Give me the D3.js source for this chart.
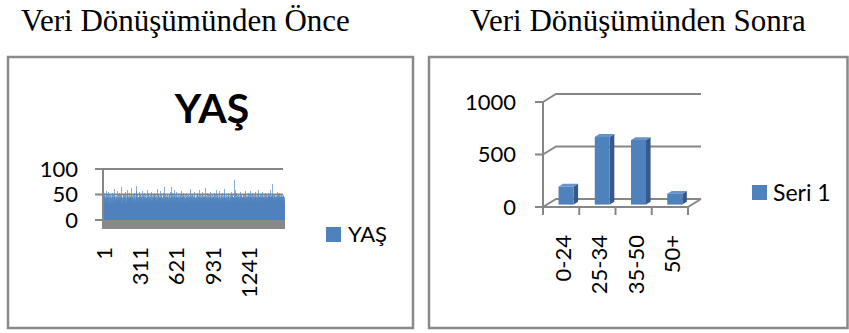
<!DOCTYPE html>
<html>
<head>
<meta charset="utf-8">
<script src="https://cdn.jsdelivr.net/npm/d3@7"></script>
<style>
  html, body { margin: 0; padding: 0; background: #fff; }
  svg { display: block; }
  .lbl { font-family: Lato, "Open Sans", sans-serif; fill: #000; }
  .head { font-family: "Liberation Serif", "Times New Roman", serif; fill: #000; }
</style>
</head>
<body>
<svg id="chart" width="849" height="333"></svg>
<script>
// Panel headings
const headings = ["Veri Dönüşümünden Önce", "Veri Dönüşümünden Sonra"];

// Left chart: age of every record (YAŞ), in record order
const ages = [
34,27,45,22,31,48,29,38,52,26,44,33,19,41,28,47,36,30,25,46,39,32,57,24,43,29,35,49,27,31,21,45,38,26,50,33,
28,46,31,23,37,44,29,55,33,26,47,40,30,22,45,27,34,49,32,28,43,36,25,51,30,41,46,20,33,29,48,35,27,44,31,38,
30,45,26,39,53,28,33,47,24,42,31,29,46,36,27,50,34,22,44,30,38,61,29,26,45,33,48,31,23,40,35,47,28,32,43,25,
32,48,27,35,44,21,30,46,38,29,56,33,25,45,31,42,28,49,34,26,47,37,30,23,44,32,52,27,39,46,29,24,43,35,31,48,
29,44,33,26,50,31,38,47,22,35,28,45,41,30,64,27,34,46,25,32,43,36,29,48,31,24,45,39,27,51,33,30,46,28,37,44,
35,27,49,31,23,45,38,29,42,33,55,26,47,30,36,44,28,21,48,34,31,46,39,25,58,30,43,27,35,49,32,24,45,37,29,41,
28,47,33,40,26,45,31,53,36,24,44,29,38,48,30,22,46,35,27,43,32,50,29,37,45,26,34,62,31,28,47,39,25,44,33,30,
46,31,27,49,35,23,44,30,38,52,28,33,45,26,41,29,47,36,24,31,48,34,27,43,39,30,56,25,66,32,28,45,37,21,44,33,
30,44,25,38,47,29,33,50,27,42,35,22,46,31,28,45,39,54,26,34,48,30,24,43,37,29,47,32,36,45,27,51,33,23,40,46,
32,28,48,35,26,44,31,39,57,29,24,46,33,41,30,47,27,36,45,22,34,49,29,38,43,31,25,52,35,28,46,30,40,44,27,33,
45,29,34,50,27,37,43,31,23,48,36,28,44,33,59,26,39,46,30,25,45,35,41,29,48,32,27,53,38,24,44,31,36,47,28,30,
27,46,32,38,44,21,35,49,29,31,45,26,40,55,33,28,47,36,30,43,24,39,48,31,27,45,34,29,50,37,26,44,32,41,46,28,
33,48,29,36,25,45,31,42,52,27,38,46,30,23,44,35,28,49,33,40,26,47,31,37,45,29,61,34,27,43,38,30,46,24,35,44,
29,41,47,32,26,50,34,28,45,37,22,44,31,39,48,27,33,56,30,46,25,36,43,29,47,31,38,27,45,34,24,49,30,42,35,28,
46,30,35,27,44,39,31,53,26,48,33,29,45,37,23,41,28,47,34,31,64,26,38,45,29,35,49,32,27,44,40,30,46,25,33,43,
31,47,28,36,51,24,45,33,39,29,46,27,42,35,30,48,25,37,44,32,28,50,34,41,26,45,31,38,47,29,33,55,27,44,36,30,
35,43,64,29,32,46,27,38,48,31,24,45,36,30,52,28,41,47,33,26,44,35,29,49,37,22,46,32,39,27,45,31,58,34,28,47,
30,36,44,27,49,33,25,46,38,29,43,31,55,26,35,47,30,40,28,45,34,23,48,37,29,44,32,51,27,39,46,30,25,43,36,33,
47,28,34,41,26,45,32,38,50,29,35,44,27,31,48,24,39,46,33,28,43,36,57,30,45,26,34,49,31,37,44,28,22,47,35,30,
33,45,29,38,52,27,44,31,36,48,25,40,30,46,34,28,43,37,21,49,32,29,45,39,27,53,35,31,46,26,42,33,47,30,38,44,
28,36,47,31,25,44,39,30,50,33,27,46,35,41,29,45,24,38,48,32,60,28,43,36,30,47,26,34,45,31,39,49,27,35,44,23,
45,32,29,48,37,26,43,34,51,28,39,46,31,24,44,36,30,47,27,33,45,40,29,55,32,26,48,35,42,30,46,28,37,44,31,25,
34,47,30,41,27,45,36,22,49,33,28,44,38,31,53,26,46,35,29,43,32,48,27,39,45,30,36,58,25,44,34,29,47,31,40,46,
29,35,45,27,50,32,38,44,30,26,47,34,41,28,46,33,24,49,36,31,43,29,54,37,27,45,32,39,48,30,25,44,35,42,28,47,
31,44,37,28,46,33,62,29,40,45,26,35,48,31,23,43,38,30,47,34,27,45,41,29,52,33,36,46,28,39,44,30,26,49,35,32,
46,28,34,43,30,38,49,27,45,33,24,41,36,47,29,31,55,26,44,37,30,48,33,28,42,46,35,25,45,31,39,50,27,34,44,29,
36,45,30,27,48,33,41,29,46,38,25,44,32,53,28,36,47,31,43,22,39,45,30,34,49,27,37,44,31,58,26,46,35,29,42,33,
47,30,38,26,45,34,29,50,36,31,44,27,41,48,33,24,46,39,28,35,43,31,56,29,45,37,27,47,32,40,44,26,34,49,30,36,
28,45,33,39,47,26,36,44,31,52,29,38,46,24,41,33,48,30,27,45,35,42,29,49,31,37,44,28,60,33,26,46,38,30,43,35,
32,48,27,44,35,30,46,39,25,43,33,51,28,37,45,31,29,47,34,40,26,44,36,30,48,27,53,33,41,45,29,35,47,31,24,44,
38,30,45,33,27,49,36,42,29,46,31,25,44,37,54,28,47,34,30,43,39,26,48,32,45,35,29,50,33,41,27,46,36,31,44,30,
45,32,39,28,78,35,47,30,43,26,37,49,31,44,34,29,58,41,27,46,33,38,45,30,52,28,44,36,31,47,25,40,48,34,29,45,
33,44,29,37,50,31,46,27,42,35,48,30,24,45,38,32,47,28,55,36,43,29,46,33,39,27,49,31,44,35,26,47,40,30,45,34,
29,46,36,31,44,27,51,38,33,45,28,41,47,30,35,43,26,49,32,39,45,29,36,56,31,44,27,48,34,30,42,46,33,25,47,37,
31,45,28,40,48,34,29,46,37,26,44,33,53,30,47,36,27,42,45,31,38,49,29,35,44,26,46,32,40,57,28,45,34,30,48,36,
44,29,37,46,31,25,49,35,42,28,45,33,30,47,39,27,52,34,44,31,36,48,28,41,45,30,26,47,35,43,29,50,33,38,46,27,
35,47,30,43,28,46,38,32,54,29,44,36,27,48,33,41,45,30,25,49,37,31,46,28,43,35,59,30,45,34,27,47,39,32,44,29,
46,33,40,27,45,31,48,36,29,44,34,51,28,39,47,30,43,26,45,35,32,49,38,29,46,31,42,27,55,36,44,30,47,33,28,45,
30,44,37,48,29,35,46,32,41,27,49,34,45,30,38,53,28,44,36,31,47,26,43,39,45,33,29,50,35,46,28,41,44,32,37,47,
33,46,28,45,39,31,48,36,44,27,52,35,42,30,47,34,29,45,38,49,31,43,26,46,37,33,44,58,30,47,35,41,28,45,32,48,
36,44,30,47,70,34,45,29,40,48,33,27,46,38,43,31,50,35,44,28,47,37,32,45,30,49,36,41,27,46,34,44,39,29,47,31,
45,35,48,28,42,37,46,31,55,33,44,29,47,36,40,45,27,49,34,43,30,46,38,32,48,26,45,35,41,47,30,53,37,44,29,46,
32,48,39,45,30,44,36,47,28,50,35,43,31,46,38,29,45,34,48,27,42,37,46,33,44,30,49,36,41,45,28,47,35,43,31,46
];
const leftTitle = "YAŞ";
const leftYTicks = [0, 50, 100];
const leftXTickLabels = [1, 311, 621, 931, 1241];

// Right chart: records per age group
const groups = ["0-24", "25-34", "35-50", "50+"];
const groupCounts = [172, 645, 615, 104];
const rightYTicks = [0, 500, 1000];
const rightSeries = "Seri 1";

const BLUE = "#4F81BD", BLUE_SIDE = "#34598A", BLUE_TOP = "#6593CB";
const GRID = "#868686";

const svg = d3.select("#chart");

// headings
svg.selectAll("text.head").data(headings).join("text")
  .attr("class", "head")
  .attr("x", (d, i) => i === 0 ? 21 : 470)
  .attr("y", 31)
  .attr("font-size", 31)
  .text(d => d);

// panel frames
svg.append("rect").attr("x", 8).attr("y", 57).attr("width", 405).attr("height", 271)
  .attr("fill", "none").attr("stroke", "#8a8a8a").attr("stroke-width", 2.5);
svg.append("rect").attr("x", 429).attr("y", 57).attr("width", 418.5).attr("height", 271)
  .attr("fill", "none").attr("stroke", "#8a8a8a").attr("stroke-width", 2.5);

/* ---------------- left chart ---------------- */
const L = svg.append("g");
const lx = d3.scaleBand().domain(d3.range(ages.length)).range([103, 284]);
const ly = d3.scaleLinear().domain([0, 100]).range([220, 169]);

L.append("text").attr("class", "lbl")
  .attr("x", 212).attr("y", 123).attr("text-anchor", "middle")
  .attr("font-size", 41).attr("font-weight", 700)
  .text(leftTitle);

// gridlines with tick stubs
L.selectAll("line.grid").data(leftYTicks).join("line")
  .attr("x1", 95).attr("x2", 283)
  .attr("y1", d => ly(d)).attr("y2", d => ly(d))
  .attr("stroke", GRID).attr("stroke-width", 2);

// floor
L.append("rect").attr("x", 102).attr("y", ly(0)).attr("width", 183).attr("height", 9)
  .attr("fill", "#888888");

// age columns
L.append("g").attr("shape-rendering", "crispEdges")
  .selectAll("rect").data(ages).join("rect")
  .attr("x", (d, i) => lx(i))
  .attr("width", 1)
  .attr("y", d => ly(d))
  .attr("height", d => ly(0) - ly(d))
  .attr("fill", BLUE).attr("fill-opacity", 0.65);

// vertical axis line
L.append("line").attr("x1", 103).attr("x2", 103)
  .attr("y1", ly(100)).attr("y2", ly(0))
  .attr("stroke", GRID).attr("stroke-width", 2);

// y labels
L.selectAll("text.yl").data(leftYTicks).join("text")
  .attr("class", "lbl").attr("font-size", 22)
  .attr("x", 78).attr("y", d => ly(d)).attr("dy", "0.36em")
  .attr("text-anchor", "end")
  .text(d => d);

// x labels (rotated)
L.selectAll("text.xl").data(leftXTickLabels).join("text")
  .attr("class", "lbl").attr("font-size", 22)
  .attr("text-anchor", "end")
  .attr("transform", d => `translate(${lx(d - 1) + 1},247) rotate(-90)`)
  .attr("dy", "0.36em")
  .text(d => d);

// legend
L.append("rect").attr("x", 326).attr("y", 227).attr("width", 15).attr("height", 15).attr("fill", BLUE);
L.append("text").attr("class", "lbl").attr("font-size", 22)
  .attr("x", 348).attr("y", 242).text(leftTitle);

/* ---------------- right chart (3-D columns) ---------------- */
const R = svg.append("g");
const DX = 13, DY = -8;            // depth vector of the floor
const rx = d3.scaleBand().domain(groups).range([543, 688]);
const ry = d3.scaleLinear().domain([0, 1000]).range([207, 102]);
const x0 = rx.range()[0], x1 = rx.range()[1];

// back wall gridlines with side-wall diagonals
R.selectAll("path.grid").data(rightYTicks).join("path")
  .attr("d", d => `M${x0},${ry(d)} L${x0 + DX},${ry(d) + DY} L${x1 + DX},${ry(d) + DY}`)
  .attr("fill", "none").attr("stroke", GRID).attr("stroke-width", 2);

// floor front and right edges
R.append("path")
  .attr("d", `M${x0},${ry(0)} L${x1},${ry(0)} L${x1 + DX},${ry(0) + DY}`)
  .attr("fill", "none").attr("stroke", GRID).attr("stroke-width", 2);

// value axis line and ticks
R.append("line").attr("x1", x0).attr("x2", x0).attr("y1", ry(1000)).attr("y2", ry(0) + 8)
  .attr("stroke", GRID).attr("stroke-width", 2);
R.selectAll("line.yt").data(rightYTicks).join("line")
  .attr("x1", x0 - 8).attr("x2", x0).attr("y1", d => ry(d)).attr("y2", d => ry(d))
  .attr("stroke", GRID).attr("stroke-width", 2);

// category ticks
const catEdges = groups.map(g => rx(g)).concat([x1]);
R.selectAll("line.xt").data(catEdges).join("line")
  .attr("x1", d => d).attr("x2", d => d).attr("y1", ry(0)).attr("y2", ry(0) + 8)
  .attr("stroke", GRID).attr("stroke-width", 2);

// columns
const T0 = 0.3, T1 = 0.65, BW = 15;
const bars = R.selectAll("g.bar").data(groups.map((g, i) => ({ g, v: groupCounts[i] }))).join("g");
bars.each(function (d) {
  const g = d3.select(this);
  const cx = rx(d.g) + rx.bandwidth() / 2 + DX * T0 + 1;
  const xl = cx - BW / 2, xr = cx + BW / 2;
  const yb = ry(0) + DY * T0, yt = ry(d.v) + DY * T0;
  const ddx = DX * (T1 - T0), ddy = DY * (T1 - T0);
  // right side face
  g.append("path")
    .attr("d", `M${xr},${yb} L${xr + ddx},${yb + ddy} L${xr + ddx},${yt + ddy} L${xr},${yt} Z`)
    .attr("fill", BLUE_SIDE);
  // top face
  g.append("path")
    .attr("d", `M${xl},${yt} L${xr},${yt} L${xr + ddx},${yt + ddy} L${xl + ddx},${yt + ddy} Z`)
    .attr("fill", BLUE_TOP);
  // front face
  g.append("rect").attr("x", xl).attr("y", yt).attr("width", BW).attr("height", yb - yt)
    .attr("fill", BLUE);
});

// y labels
R.selectAll("text.yl").data(rightYTicks).join("text")
  .attr("class", "lbl").attr("font-size", 22)
  .attr("x", 516).attr("y", d => ry(d)).attr("dy", "0.36em")
  .attr("text-anchor", "end")
  .text(d => d);

// category labels (rotated)
R.selectAll("text.xl").data(groups).join("text")
  .attr("class", "lbl").attr("font-size", 22)
  .attr("text-anchor", "end")
  .attr("transform", d => `translate(${rx(d) + rx.bandwidth() / 2 + 2},235) rotate(-90)`)
  .attr("dy", "0.36em")
  .text(d => d);

// legend
R.append("rect").attr("x", 752).attr("y", 185).attr("width", 15).attr("height", 15).attr("fill", BLUE);
R.append("text").attr("class", "lbl").attr("font-size", 23)
  .attr("x", 773).attr("y", 200.5).text(rightSeries);
</script>
</body>
</html>
